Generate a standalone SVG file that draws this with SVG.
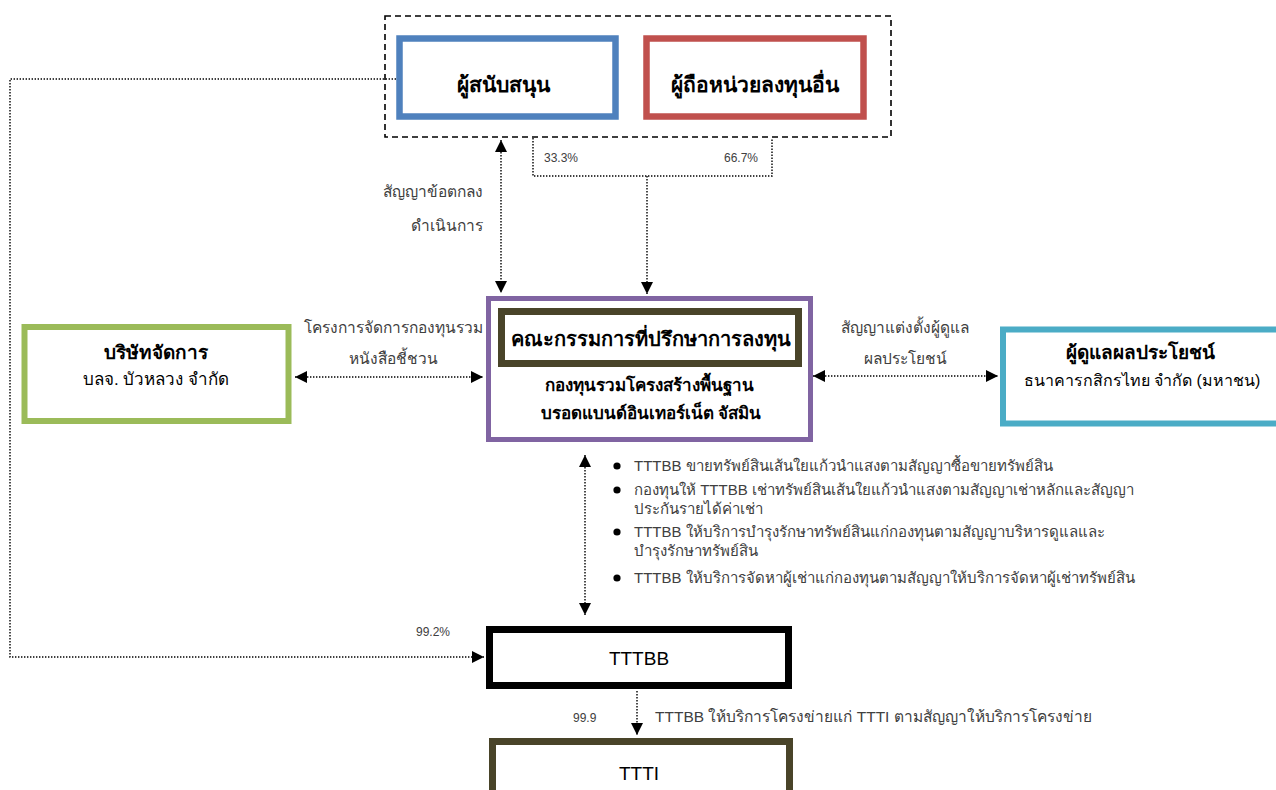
<svg xmlns="http://www.w3.org/2000/svg" width="1276" height="790" viewBox="0 0 1276 790">
<style>
text{font-family:"Liberation Sans","Noto Sans",sans-serif;}
.n{font-size:19px;fill:#000;text-anchor:middle}
.t{font-size:21px}
.b{font-weight:bold}
.s{font-size:16px;fill:#000;text-anchor:middle}
.h{font-size:19px}
.f{font-size:17px}
.lbl{font-size:15.5px;fill:#404040}
.bl{font-size:15px;fill:#404040}
.pc{font-size:12px;fill:#404040}
.dot{fill:none;stroke:#000;stroke-width:1.4;stroke-dasharray:1.4 1.6}
.box{fill:#fff}
</style>
<defs>
<marker id="ah" viewBox="0 0 10 10" refX="10" refY="5" markerWidth="12" markerHeight="12" markerUnits="userSpaceOnUse" orient="auto-start-reverse">
<path d="M0,0 L10,5 L0,10 z" fill="#000"/>
</marker>
</defs>
<g id="connectors">
<path class="dot" d="M396,79 H10 V657 H484" marker-end="url(#ah)"/>
<path class="dot" d="M501,140 V293" marker-start="url(#ah)" marker-end="url(#ah)"/>
<path class="dot" d="M533,138 V176 H772 V138"/>
<path class="dot" d="M647,176 V294" marker-end="url(#ah)"/>
<path class="dot" d="M295,377 H483" marker-start="url(#ah)" marker-end="url(#ah)"/>
<path class="dot" d="M813,376 H998" marker-start="url(#ah)" marker-end="url(#ah)"/>
<path class="dot" d="M585,455 V615" marker-start="url(#ah)" marker-end="url(#ah)"/>
<path class="dot" d="M637,691 V735" marker-end="url(#ah)"/>
<text class="pc" x="544" y="162">33.3%</text>
<text class="pc" x="724" y="162">66.7%</text>
<text class="lbl" x="483" y="197" text-anchor="end">สัญญาข้อตกลง</text>
<text class="lbl" x="483" y="231" text-anchor="end">ดำเนินการ</text>
<text class="lbl" x="393" y="333" text-anchor="middle">โครงการจัดการกองทุนรวม</text>
<text class="lbl" x="393" y="364" text-anchor="middle">หนังสือชี้ชวน</text>
<text class="lbl" x="905" y="333" text-anchor="middle">สัญญาแต่งตั้งผู้ดูแล</text>
<text class="lbl" x="905" y="364" text-anchor="middle">ผลประโยชน์</text>
<text class="pc" x="416" y="636">99.2%</text>
<text class="pc" x="573" y="722">99.9</text>
<text class="lbl" x="655" y="722">TTTBB ให้บริการโครงข่ายแก่ TTTI ตามสัญญาให้บริการโครงข่าย</text>
</g>
<g id="bullets" class="bl">
<circle cx="617" cy="466" r="3.6" fill="#000"/>
<circle cx="617" cy="490" r="3.6" fill="#000"/>
<circle cx="617" cy="532" r="3.6" fill="#000"/>
<circle cx="617" cy="578" r="3.6" fill="#000"/>
<text x="634" y="471">TTTBB ขายทรัพย์สินเส้นใยแก้วนำแสงตามสัญญาซื้อขายทรัพย์สิน</text>
<text x="634" y="495">กองทุนให้ TTTBB เช่าทรัพย์สินเส้นใยแก้วนำแสงตามสัญญาเช่าหลักและสัญญา</text>
<text x="634" y="514">ประกันรายได้ค่าเช่า</text>
<text x="634" y="537">TTTBB ให้บริการบำรุงรักษาทรัพย์สินแก่กองทุนตามสัญญาบริหารดูแลและ</text>
<text x="634" y="556">บำรุงรักษาทรัพย์สิน</text>
<text x="634" y="583">TTTBB ให้บริการจัดหาผู้เช่าแก่กองทุนตามสัญญาให้บริการจัดหาผู้เช่าทรัพย์สิน</text>
</g>
<g id="holders">
<rect x="385" y="16" width="506" height="121" fill="none" stroke="#000" stroke-width="1.6" stroke-dasharray="6 4"/>
</g>
<g id="sponsor">
<rect class="box" x="399.5" y="38.5" width="216" height="78" stroke="#4f81bd" stroke-width="6.5"/>
<text class="n t b" x="503" y="92">ผู้สนับสนุน</text>
</g>
<g id="other-holders">
<rect class="box" x="646.5" y="38.5" width="217" height="78" stroke="#c0504d" stroke-width="6.5"/>
<text class="n t b" x="755" y="92">ผู้ถือหน่วยลงทุนอื่น</text>
</g>
<g id="manager">
<rect class="box" x="24.5" y="327" width="264" height="94" stroke="#9bbb59" stroke-width="6"/>
<text class="s h b" x="156" y="359">บริษัทจัดการ</text>
<text class="s" x="156" y="385" fill="#222" style="font-size:17px">บลจ. บัวหลวง จำกัด</text>
</g>
<g id="trustee">
<rect class="box" x="1003" y="329.5" width="300" height="94" stroke="#4bacc6" stroke-width="6"/>
<text class="s h b" x="1140" y="359">ผู้ดูแลผลประโยชน์</text>
<text class="s" x="1142" y="386" fill="#222">ธนาคารกสิกรไทย จำกัด (มหาชน)</text>
</g>
<g id="fund">
<rect class="box" x="488.5" y="298.5" width="322" height="141" stroke="#8064a2" stroke-width="5"/>
<text class="s f b" x="649" y="391">กองทุนรวมโครงสร้างพื้นฐาน</text>
<text class="s f b" x="651" y="419">บรอดแบนด์อินเทอร์เน็ต จัสมิน</text>
</g>
<g id="committee">
<rect class="box" x="501.5" y="311.5" width="297" height="52" stroke="#494429" stroke-width="7"/>
<text class="n b" x="651" y="346" style="font-size:20px">คณะกรรมการที่ปรึกษาการลงทุน</text>
</g>
<g id="tttbb">
<rect class="box" x="489.5" y="629.5" width="299" height="56" stroke="#000" stroke-width="7"/>
<text class="n" x="639" y="665">TTTBB</text>
</g>
<g id="ttti">
<rect class="box" x="492.5" y="741.5" width="297" height="70" stroke="#494429" stroke-width="7"/>
<text class="n" x="639" y="780">TTTI</text>
</g>
</svg>
